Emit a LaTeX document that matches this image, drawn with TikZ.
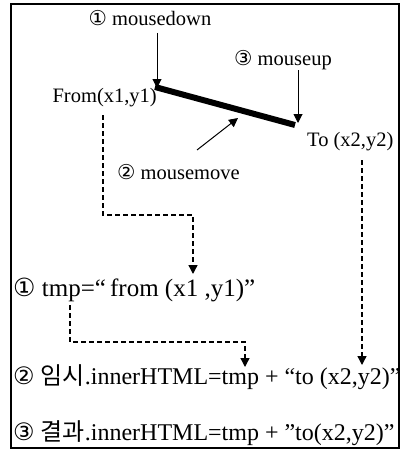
\documentclass[tikz,border=0pt]{standalone}
\usepackage{fontspec}
\setmainfont{Liberation Serif}
\newfontfamily\cjk{Noto Sans CJK KR}
\newfontfamily\sym{DejaVu Sans}
\usetikzlibrary{arrows.meta}
\begin{document}
\begin{tikzpicture}[x=1pt,y=-1pt,
  lbl/.style={inner sep=0pt,font=\fontsize{20.5}{22}\selectfont},
  rowtext/.style={inner sep=0pt,anchor=west,font=\fontsize{24}{26}\selectfont},
  arr/.style={line width=1pt,-{Triangle[length=9pt,width=9pt]}},
  darr/.style={line width=1.4pt,dash pattern=on 4.5pt off 3.5pt,-{Triangle[length=9pt,width=9pt]}},
  thick line/.style={line width=6pt}]
\useasboundingbox (0,0) rectangle (402,452);
\draw[line width=1.2pt] (11,4) rectangle (399,448);
% top labels
\node[lbl] (md) at (150,18) {{\sym ①} mousedown};
\node[lbl] (mu) at (283,60) {{\sym ③} mouseup};
\node[lbl,anchor=east] (from) at (157,98) {From(x1,y1)};
\node[lbl,anchor=west] (to) at (307,142) {To (x2,y2)};
\node[lbl,anchor=west] (mm) at (117,172) {{\sym ②} mousemove};
% line
\coordinate (A) at (155,87);
\coordinate (B) at (295,125);
\draw[thick line] (A) -- (B);
\coordinate (mdstart) at (157,33);
\coordinate (mdend) at (157,88);
\draw[arr] (mdstart) -- (mdend);
\coordinate (mustart) at (298,70);
\coordinate (muend) at (298,123);
\draw[arr] (mustart) -- (muend);
\coordinate (mmstart) at (197,150);
\coordinate (mmend) at (238,118);
\draw[arr] (mmstart) -- (mmend);
% rows
\node[rowtext,font=\fontsize{25}{27}\selectfont] (tmp) at (13,290) {{\sym ①} tmp=“\,from (x1 ,y1)”};
\node[rowtext] (r2) at (13,377) {{\sym ②} {\cjk 임시}.innerHTML=tmp + “to (x2,y2)”};
\node[rowtext] (r3) at (13,433) {{\sym ③} {\cjk 결과}.innerHTML=tmp + ”to(x2,y2)”};
% dashed connectors
\coordinate (d1a) at (103,115);
\coordinate (d1b) at (103,215);
\coordinate (d1c) at (193,215);
\coordinate (d1d) at (193,274);
\draw[darr] (d1a) -- (d1b) -- (d1c) -- (d1d);
\coordinate (d2a) at (70,305);
\coordinate (d2b) at (70,342);
\coordinate (d2c) at (245,342);
\coordinate (d2d) at (245,367);
\draw[darr] (d2a) -- (d2b) -- (d2c) -- (d2d);
\coordinate (d3a) at (362,160);
\coordinate (d3b) at (362,365);
\draw[darr] (d3a) -- (d3b);
\end{tikzpicture}
\end{document}
